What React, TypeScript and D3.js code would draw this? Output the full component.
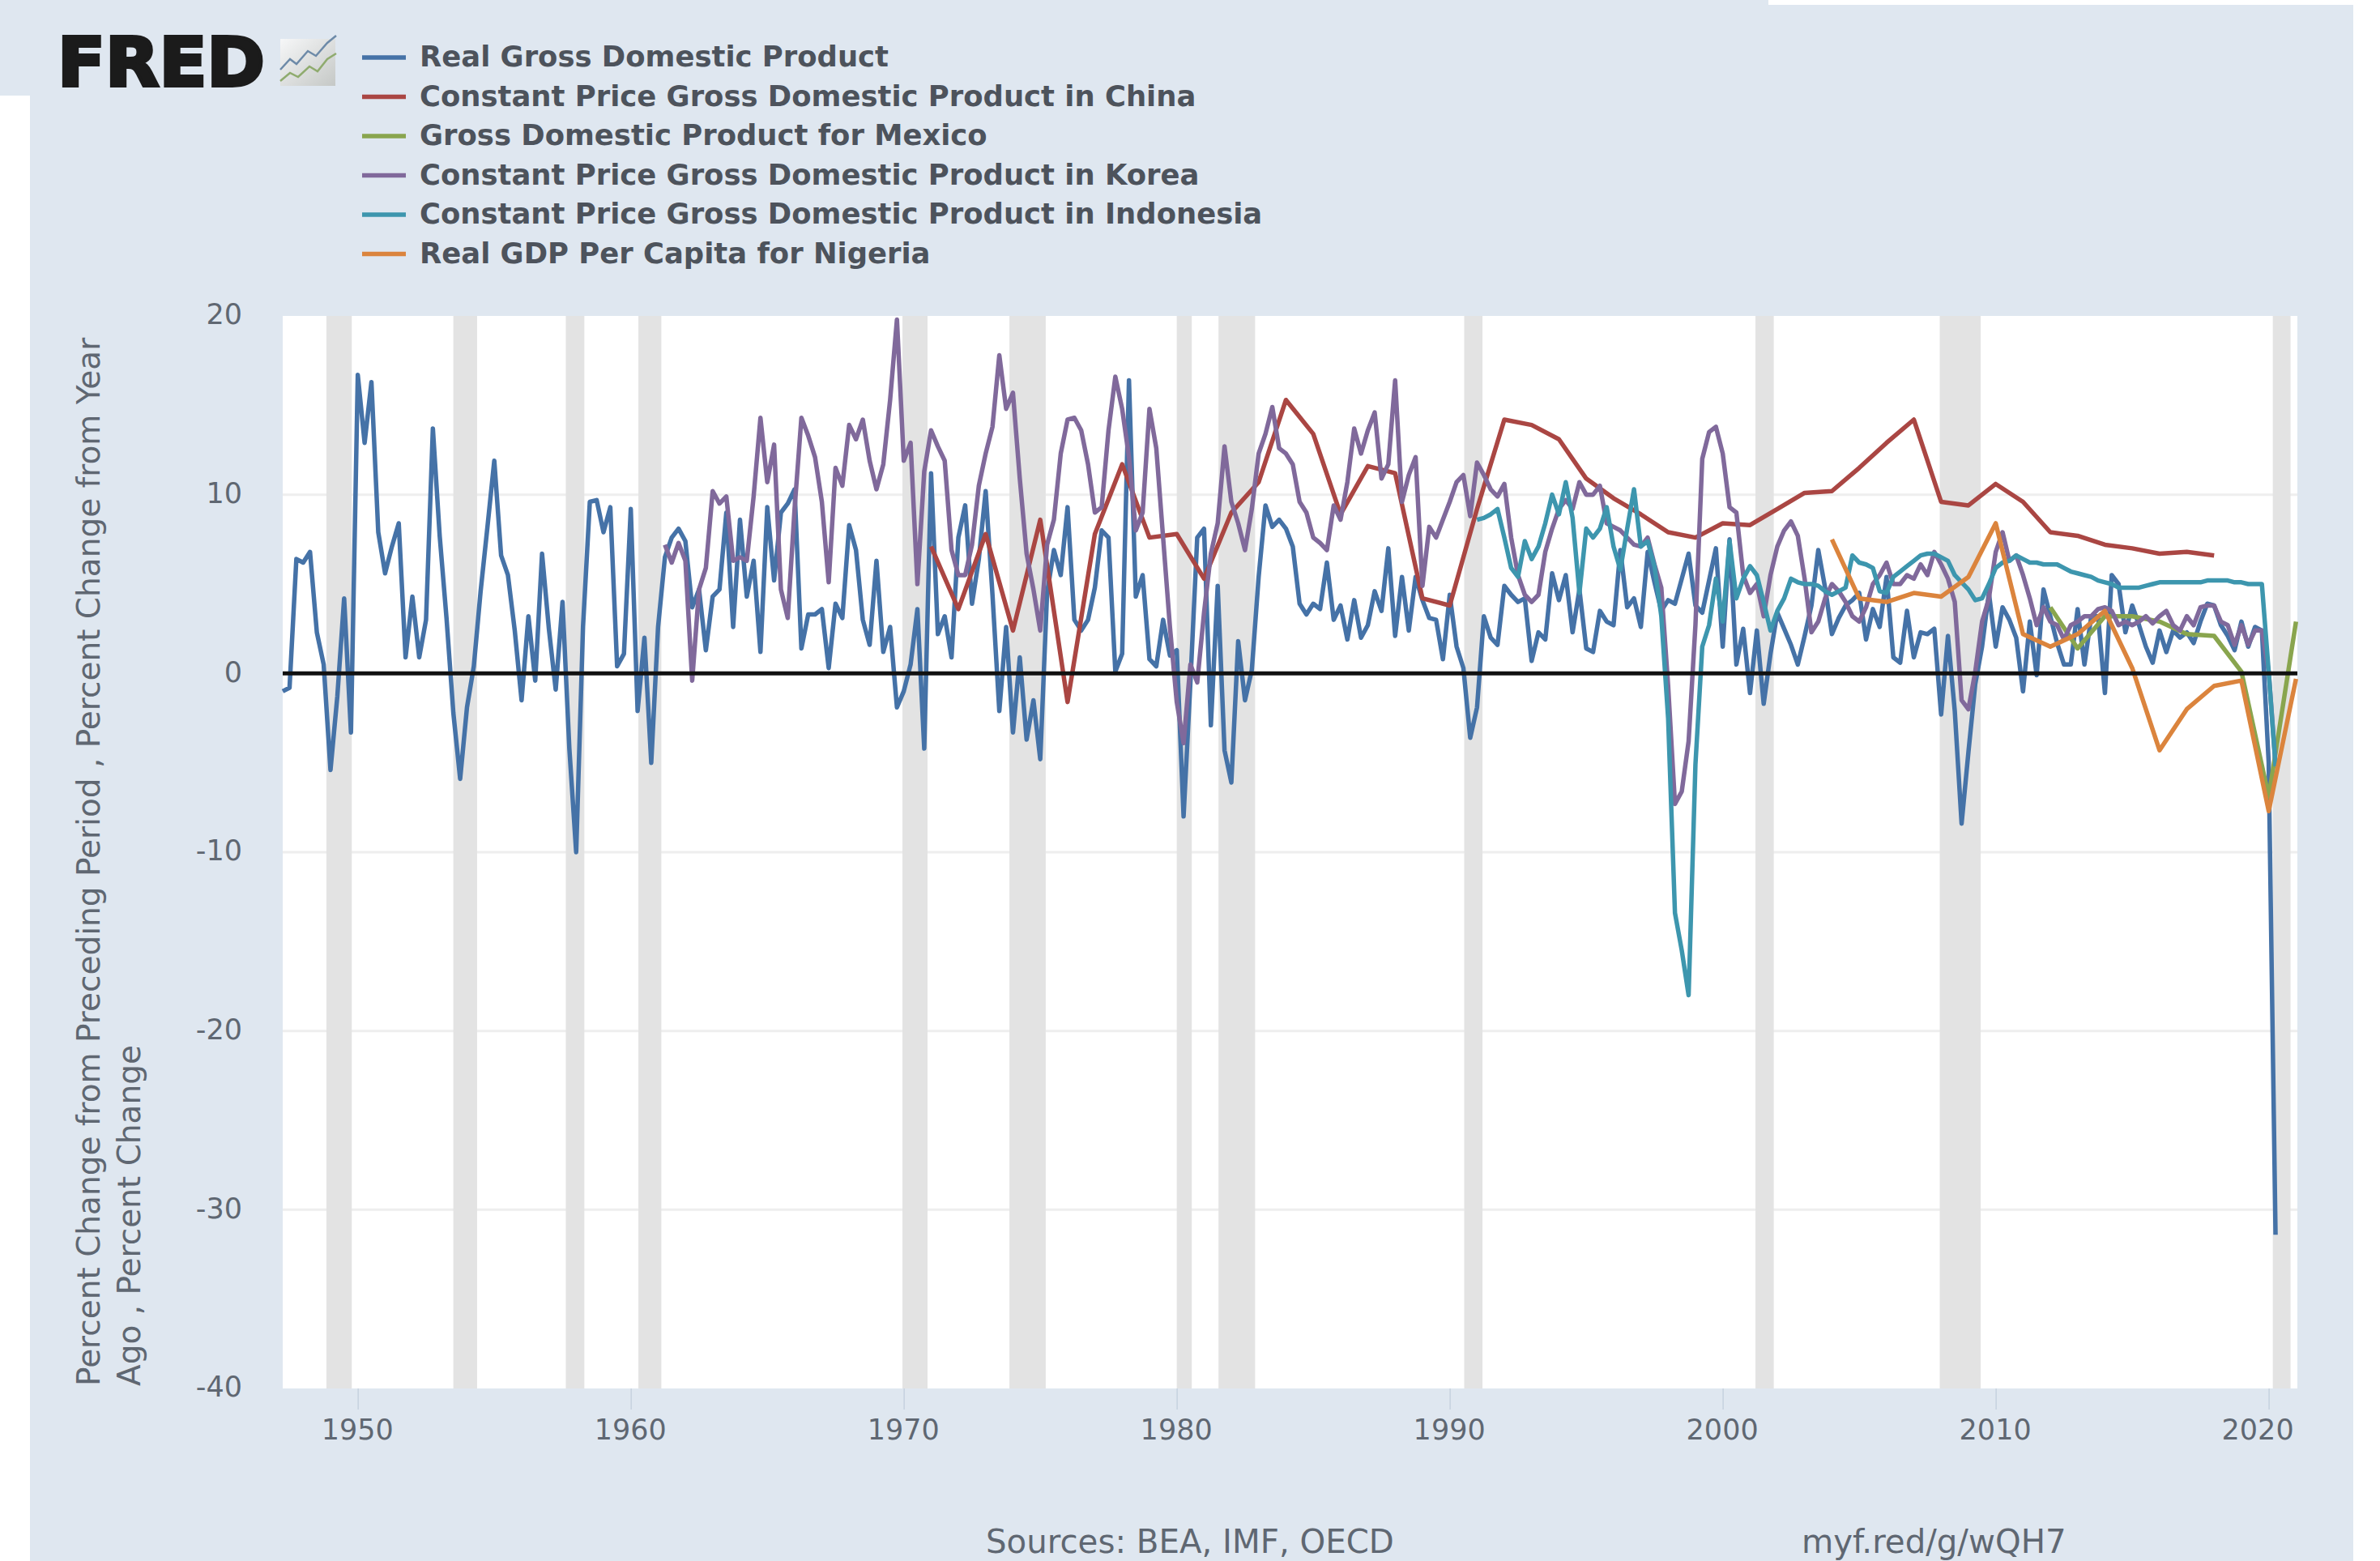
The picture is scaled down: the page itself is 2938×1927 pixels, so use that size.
import React, { useEffect, useRef } from 'react';
import * as d3 from 'd3';

const WIDTH = 2938;
const HEIGHT = 1927;

const legendLabels = [
  'Real Gross Domestic Product',
  'Constant Price Gross Domestic Product in China',
  'Gross Domestic Product for Mexico',
  'Constant Price Gross Domestic Product in Korea',
  'Constant Price Gross Domestic Product in Indonesia',
  'Real GDP Per Capita for Nigeria',
];
const seriesColors = ['#4572a7', '#aa4643', '#89a54e', '#80699b', '#3d96ae', '#db843d'];

const yearTicks = [1950, 1960, 1970, 1980, 1990, 2000, 2010, 2020];
const valueTicks = [20, 10, 0, -10, -20, -30, -40];

// recession bands, as [start, end] in decimal years
const recessions = [
  [1948.85, 1949.78], [1953.5, 1954.37], [1957.62, 1958.3], [1960.28, 1961.12],
  [1969.95, 1970.87], [1973.87, 1975.2], [1980.0, 1980.55], [1981.53, 1982.87],
  [1990.53, 1991.2], [2001.2, 2001.87], [2007.95, 2009.45], [2020.15, 2020.8],
];

// quarterly, first value is 1947.25
const usGdp = [
  -1.0, -0.8, 6.4,
  6.2, 6.8, 2.3, 0.5,
  -5.4, -1.3, 4.2, -3.3,
  16.7, 12.9, 16.3, 7.9,
  5.6, 7.1, 8.4, 0.9,
  4.3, 0.9, 3.0, 13.7,
  7.7, 3.1, -2.2, -5.9,
  -1.9, 0.4, 4.6, 8.2,
  11.9, 6.6, 5.5, 2.4,
  -1.5, 3.2, -0.4, 6.7,
  2.5, -0.9, 4.0, -4.2,
  -10.0, 2.6, 9.6, 9.7,
  7.9, 9.3, 0.4, 1.1,
  9.2, -2.1, 2.0, -5.0,
  2.6, 6.5, 7.6, 8.1,
  7.4, 3.7, 4.7, 1.3,
  4.3, 4.7, 9.0, 2.6,
  8.6, 4.3, 6.3, 1.2,
  9.3, 5.2, 9.0, 9.5,
  10.3, 1.4, 3.3, 3.3,
  3.6, 0.3, 3.9, 3.1,
  8.3, 6.9, 3.0, 1.6,
  6.3, 1.2, 2.6, -1.9,
  -1.0, 0.5, 3.6, -4.2,
  11.2, 2.2, 3.2, 0.9,
  7.6, 9.4, 3.9, 6.4,
  10.2, 4.4, -2.1, 2.6,
  -3.3, 0.9, -3.7, -1.5,
  -4.8, 4.5, 6.9, 5.5,
  9.3, 3.0, 2.4, 3.0,
  4.8, 8.0, 7.6, 0.1,
  1.1, 16.4, 4.3, 5.5,
  0.8, 0.4, 3.0, 1.0,
  1.3, -8.0, -0.5, 7.6,
  8.1, -2.9, 4.9, -4.3,
  -6.1, 1.8, -1.5, 0.2,
  5.4, 9.4, 8.2, 8.6,
  8.1, 7.1, 3.9, 3.3,
  3.9, 3.6, 6.2, 3.0,
  3.8, 1.9, 4.1, 2.0,
  2.7, 4.6, 3.5, 7.0,
  2.1, 5.4, 2.4, 5.4,
  4.1, 3.1, 3.0, 0.8,
  4.4, 1.5, 0.3, -3.6,
  -1.9, 3.2, 2.0, 1.6,
  4.9, 4.4, 4.0, 4.2,
  0.7, 2.3, 1.9, 5.6,
  4.1, 5.5, 2.3, 4.7,
  1.4, 1.2, 3.5, 2.9,
  2.7, 6.9, 3.7, 4.2,
  2.6, 6.8, 5.1, 3.5,
  4.1, 3.9, 5.3, 6.7,
  3.8, 3.4, 5.2, 7.0,
  1.5, 7.5, 0.5, 2.5,
  -1.1, 2.4, -1.7, 1.1,
  3.4, 2.5, 1.6, 0.5,
  2.1, 3.8, 6.9, 4.8,
  2.2, 3.1, 3.8, 4.1,
  4.5, 1.9, 3.6, 2.6,
  5.4, 0.9, 0.6, 3.5,
  0.9, 2.3, 2.2, 2.5,
  -2.3, 2.1, -2.1, -8.4,
  -4.4, -0.6, 1.5, 4.5,
  1.5, 3.7, 3.0, 2.0,
  -1.0, 2.9, -0.1, 4.7,
  3.2, 1.7, 0.5, 0.5,
  3.6, 0.5, 3.2, 3.2,
  -1.1, 5.5, 5.0, 2.3,
  3.8, 2.7, 1.5, 0.6,
  2.4, 1.2, 2.4, 2.0,
  2.3, 1.7, 2.9, 3.9,
  3.8, 2.7, 2.1, 1.3,
  2.9, 1.5, 2.6, 2.4,
  -5.0, -31.4,
];

// annual, first value is 1971
const chinaGdp = [
  7.1, 3.6, 7.8, 2.4, 8.6, -1.6, 7.8, 11.7, 7.6, 7.8,
  5.3, 9.0, 10.7, 15.3, 13.4, 8.9, 11.6, 11.2, 4.2, 3.8,
  9.2, 14.2, 13.9, 13.1, 10.9, 9.8, 8.9, 7.9, 7.6, 8.4,
  8.3, 9.2, 10.1, 10.2, 11.5, 12.9, 14.2, 9.6, 9.4, 10.6,
  9.6, 7.9, 7.7, 7.2, 7.0, 6.7, 6.8, 6.6,
];

// annual, first value is 2012
const mexicoGdp = [3.7, 1.4, 3.2, 3.2, 2.9, 2.2, 2.1, 0.1, -6.9, 2.9];

// quarterly, first value is 1961.25
const koreaGdp = [
  7.2, 6.2, 7.3, 6.3, -0.4, 4.7, 5.9, 10.2, 9.5, 9.9,
  6.3, 6.5, 6.3, 9.9, 14.3, 10.7, 12.8, 4.7, 3.1, 9.2,
  14.3, 13.3, 12.1, 9.6, 5.1, 11.5, 10.5, 13.9, 13.1, 14.2,
  11.9, 10.3, 11.7, 15.3, 19.8, 11.9, 12.9, 5.0, 11.3, 13.6,
  12.7, 11.9, 6.9, 5.5, 5.5, 7.2, 10.5, 12.3, 13.8, 17.8,
  14.8, 15.7, 10.9, 6.7, 4.7, 2.4, 7.2, 8.6, 12.3, 14.2,
  14.3, 13.6, 11.7, 9.0, 9.3, 13.6, 16.6, 14.8, 12.1, 8.0,
  9.0, 14.8, 12.6, 7.6, 2.6, -1.6, -3.9, 0.5, -0.5, 3.4,
  6.7, 8.4, 12.7, 9.6, 8.4, 6.9, 9.2, 12.3, 13.4, 14.9,
  12.6, 12.3, 11.7, 9.6, 9.0, 7.6, 7.3, 6.9, 9.4, 8.6,
  10.7, 13.7, 12.3, 13.6, 14.6, 10.9, 11.7, 16.4, 9.6, 11.1,
  12.1, 4.9, 8.2, 7.6, 8.6, 9.6, 10.7, 11.1, 8.8, 11.8,
  11.1, 10.3, 9.9, 10.6, 7.6, 5.5, 4.4, 4.0, 4.4, 6.8,
  8.1, 9.2, 9.7, 9.2, 10.7, 10.0, 10.0, 10.5, 8.4, 8.2,
  8.0, 7.6, 7.2, 7.1, 7.6, 6.1, 4.8, -0.7, -7.3, -6.6,
  -3.8, 2.7, 12.0, 13.5, 13.8, 12.3, 9.3, 9.0, 5.5, 4.5,
  5.0, 3.2, 5.5, 7.1, 8.0, 8.5, 7.7, 5.3, 2.3, 2.9,
  4.2, 5.0, 4.6, 4.0, 3.2, 2.9, 3.7, 5.0, 5.5, 6.2,
  5.0, 5.0, 5.5, 5.3, 6.1, 5.5, 6.8, 6.1, 5.3, 4.0,
  -1.5, -2.0, 0.1, 2.9, 4.2, 6.8, 7.9, 6.3, 6.6, 5.5,
  4.2, 2.7, 3.7, 2.9, 2.7, 1.9, 2.7, 2.9, 3.2, 3.2,
  3.6, 3.7, 3.5, 2.7, 2.9, 2.7, 2.9, 3.2, 2.8, 3.2,
  3.5, 2.7, 2.4, 3.2, 2.7, 3.7, 3.8, 3.8, 2.9, 2.7,
  1.6, 2.7, 1.6, 2.4, 2.4, 0.1, -5.1,
];

// quarterly, first value is 1991.0
const indonesiaGdp = [
  8.6, 8.7, 8.9, 9.2, 7.6, 5.9, 5.4, 7.4, 6.4, 7.1,
  8.4, 10.0, 8.9, 10.7, 8.7, 4.5, 8.1, 7.6, 8.1, 9.3,
  7.1, 5.8, 8.1, 10.3, 7.1, 7.4, 6.0, 3.2, -2.5, -13.4,
  -15.5, -18.0, -5.1, 1.5, 2.7, 5.3, 2.9, 7.4, 4.2, 5.3,
  6.0, 5.5, 4.0, 2.4, 3.5, 4.2, 5.3, 5.1, 5.0, 5.0,
  4.9, 4.6, 4.4, 4.6, 4.8, 6.6, 6.2, 6.1, 5.9, 4.6,
  4.5, 5.4, 5.7, 6.0, 6.3, 6.6, 6.7, 6.7, 6.5, 6.3,
  5.5, 5.1, 4.7, 4.1, 4.2, 5.0, 5.9, 6.2, 6.3, 6.6,
  6.4, 6.2, 6.2, 6.1, 6.1, 6.1, 5.9, 5.7, 5.6, 5.5,
  5.4, 5.2, 5.1, 5.0, 4.8, 4.8, 4.8, 4.8, 4.9, 5.0,
  5.1, 5.1, 5.1, 5.1, 5.1, 5.1, 5.1, 5.2, 5.2, 5.2,
  5.2, 5.1, 5.1, 5.0, 5.0, 5.0, 0.1, -5.2,
];

// annual, first value is 2004
const nigeriaGdp = [7.5, 4.2, 4.0, 4.5, 4.3, 5.4, 8.4, 2.2, 1.5, 2.2, 3.5, 0.3, -4.3, -2.0, -0.7, -0.4, -7.7, -0.3];

const quarterly = (values: number[], start: number) => values.map((v, i) => ({ t: start + i * 0.25, v }));
const annual = (values: number[], start: number) => values.map((v, i) => ({ t: start + i, v }));

const seriesData = [
  quarterly(usGdp, 1947.25),
  annual(chinaGdp, 1971),
  annual(mexicoGdp, 2012),
  quarterly(koreaGdp, 1961.25),
  quarterly(indonesiaGdp, 1991),
  annual(nigeriaGdp, 2004),
];

const FONT = '"DejaVu Sans", sans-serif';
const BG = '#dfe7f0';
const TEXT = '#5f6772';

function App() {
  const svgRef = useRef<SVGSVGElement>(null);

  useEffect(() => {
    const svg = d3.select(svgRef.current);
    svg.selectAll('*').remove();

    const margin = { top: 390, right: 2836, bottom: 1714, left: 349 };
    const x = d3.scaleLinear().domain([1947.25, 2021.05]).range([margin.left, margin.right]);
    const y = d3.scaleLinear().domain([-40, 20]).range([margin.bottom, margin.top]);

    // page background with the white corners of the screenshot
    svg.append('rect').attr('width', WIDTH).attr('height', HEIGHT).attr('fill', '#fff');
    svg.append('rect').attr('x', 37).attr('y', 6).attr('width', 2868).attr('height', HEIGHT - 6).attr('fill', BG);
    svg.append('rect').attr('x', 0).attr('y', 0).attr('width', 2183).attr('height', 118).attr('fill', BG);

    // plot area, grid, recessions
    svg.append('rect')
      .attr('x', margin.left)
      .attr('y', margin.top)
      .attr('width', margin.right - margin.left)
      .attr('height', margin.bottom - margin.top)
      .attr('fill', '#fff');

    svg.append('g').selectAll('line')
      .data(valueTicks.filter(v => v !== 20 && v !== -40))
      .enter()
      .append('line')
      .attr('x1', margin.left)
      .attr('x2', margin.right)
      .attr('y1', d => y(d))
      .attr('y2', d => y(d))
      .attr('stroke', '#eeeeee')
      .attr('stroke-width', 3);

    svg.append('g').selectAll('rect')
      .data(recessions)
      .enter()
      .append('rect')
      .attr('x', d => x(d[0]))
      .attr('y', margin.top)
      .attr('width', d => x(d[1]) - x(d[0]))
      .attr('height', margin.bottom - margin.top)
      .attr('fill', '#e3e3e3');

    // axes
    const xAxis = svg.append('g')
      .attr('transform', `translate(0, ${margin.bottom})`)
      .call(d3.axisBottom(x).tickValues(yearTicks).tickFormat(d3.format('d')).tickSize(26).tickPadding(12));
    xAxis.select('.domain').remove();
    xAxis.selectAll('line').attr('stroke', '#c6d2df').attr('stroke-width', 1.5);
    xAxis.selectAll('text')
      .attr('fill', TEXT)
      .style('font-family', FONT)
      .style('font-size', '35px')
      .attr('dx', (d: any) => (d === 2020 ? -14 : -1));

    const yAxis = svg.append('g')
      .attr('transform', `translate(${margin.left}, 0)`)
      .call(d3.axisLeft(y).tickValues(valueTicks).tickFormat(d => String(d)).tickSize(0).tickPadding(50));
    yAxis.select('.domain').remove();
    yAxis.selectAll('text')
      .attr('fill', TEXT)
      .style('font-family', FONT)
      .style('font-size', '35px')
      .attr('dy', '0.28em');

    // series
    const line = d3.line<{ t: number; v: number }>().x(d => x(d.t)).y(d => y(d.v));
    svg.append('g').selectAll('path')
      .data(seriesData)
      .enter()
      .append('path')
      .attr('d', d => line(d))
      .attr('fill', 'none')
      .attr('stroke', (d, i) => seriesColors[i])
      .attr('stroke-width', 5.5)
      .attr('stroke-linejoin', 'round');

    svg.append('line')
      .attr('x1', margin.left)
      .attr('x2', margin.right)
      .attr('y1', y(0))
      .attr('y2', y(0))
      .attr('stroke', '#111')
      .attr('stroke-width', 5);

    // y title
    const title = svg.append('g')
      .attr('font-family', FONT)
      .attr('font-size', 39)
      .attr('fill', TEXT);
    title.append('text')
      .attr('transform', 'translate(123, 1711) rotate(-90)')
      .text('Percent Change from Preceding Period , Percent Change from Year');
    title.append('text')
      .attr('transform', 'translate(173, 1711) rotate(-90)')
      .text('Ago , Percent Change');

    // legend
    const legend = svg.append('g').selectAll('g')
      .data(legendLabels)
      .enter()
      .append('g')
      .attr('transform', (d, i) => `translate(0, ${70 + i * 48.5})`);
    legend.append('line')
      .attr('x1', 447)
      .attr('x2', 501)
      .attr('y1', 1)
      .attr('y2', 1)
      .attr('stroke', (d, i) => seriesColors[i])
      .attr('stroke-width', 5.5);
    legend.append('text')
      .attr('x', 518)
      .attr('y', 12)
      .attr('font-family', FONT)
      .attr('font-weight', 'bold')
      .attr('font-size', 35.4)
      .attr('fill', '#4d535c')
      .text(d => d);

    // footer
    const footer = svg.append('g').attr('font-family', FONT).attr('font-size', 40.3).attr('fill', TEXT);
    footer.append('text').attr('x', 1217).attr('y', 1917).text('Sources: BEA, IMF, OECD');
    footer.append('text').attr('x', 2224).attr('y', 1917).text('myf.red/g/wQH7');

    // FRED logo
    const logo = svg.append('g');
    logo.append('text')
      .attr('x', 71)
      .attr('y', 106)
      .attr('font-family', FONT)
      .attr('font-weight', 'bold')
      .attr('font-size', 84)
      .attr('textLength', 256)
      .attr('lengthAdjust', 'spacingAndGlyphs')
      .attr('fill', '#1b1b1b')
      .attr('stroke', '#1b1b1b')
      .attr('stroke-width', 4)
      .text('FRED');
    const grad = svg.append('defs').append('linearGradient')
      .attr('id', 'logo-bg').attr('x1', 0).attr('y1', 0).attr('x2', 1).attr('y2', 1);
    grad.append('stop').attr('offset', '0%').attr('stop-color', '#f6f7f8');
    grad.append('stop').attr('offset', '100%').attr('stop-color', '#c5c8c6');
    logo.append('rect').attr('x', 346).attr('y', 48).attr('width', 68).attr('height', 58).attr('fill', 'url(#logo-bg)');
    logo.append('path')
      .attr('d', 'M346,86 L358,73 L366,79 L380,63 L390,69 L404,53 L415,44')
      .attr('fill', 'none').attr('stroke', '#6d8aa8').attr('stroke-width', 2.5);
    logo.append('path')
      .attr('d', 'M346,100 L358,90 L368,95 L382,82 L392,88 L404,73 L415,66')
      .attr('fill', 'none').attr('stroke', '#8fab6e').attr('stroke-width', 2.5);
  }, []);

  return (
    <svg
      ref={svgRef}
      width={WIDTH}
      height={HEIGHT}
      style={{ position: 'absolute', left: 0, top: 0, display: 'block' }}
    />
  );
}

export default App;
